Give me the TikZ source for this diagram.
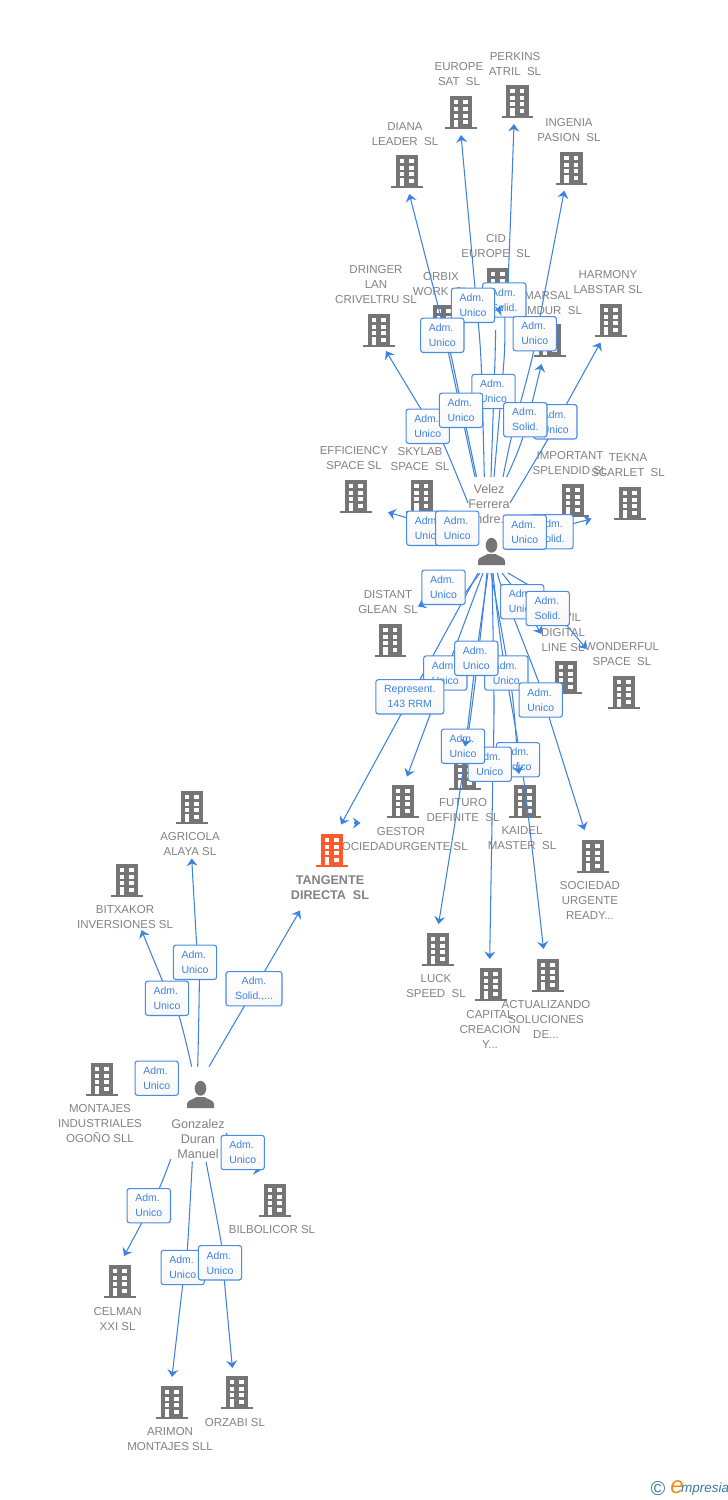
\documentclass[tikz,border=0pt]{standalone}
\usepackage{fontspec}
\setmainfont{Liberation Sans}
\usetikzlibrary{arrows.meta}
\definecolor{bgray}{HTML}{757575}
\definecolor{borange}{HTML}{FF5A2A}
\definecolor{ltext}{HTML}{828282}
\definecolor{lblue}{HTML}{3D82E2}
\definecolor{bblue}{HTML}{4A8BE4}
\definecolor{logoteal}{HTML}{3C7A9C}
\definecolor{logoor}{HTML}{F28A1E}
\newcommand\bldshape[1]{%
  \fill[#1] (-15.7,0) rectangle (15.7,-2.2);
  \fill[#1] (-11.2,-2) rectangle (11.4,-33);
  \fill[white] (-7.3,-29) rectangle (-2.7,-25);
  \fill[white] (2,-29) rectangle (6.7,-25);
  \fill[white] (-7.3,-22.3) rectangle (-2.7,-18.3);
  \fill[white] (2,-22.3) rectangle (6.7,-18.3);
  \fill[white] (-7.3,-15.7) rectangle (-2.7,-11.7);
  \fill[white] (2,-15.7) rectangle (6.7,-11.7);
  \fill[white] (2,-9) rectangle (6.7,-5);
  \fill[white] (-7.3,-9.7) rectangle (-2.7,-2.4);
}
\tikzset{
  bldg/.pic={\bldshape{bgray}},
  bldgo/.pic={\bldshape{borange}},
  persona/.pic={
    \fill[bgray] (0,-19.7) ellipse [x radius=5.8, y radius=7.4];
    \fill[bgray] (-13.5,0) -- (-13.5,-4) .. controls (-13.5,-8) and (-7,-8.5) .. (-4,-11)
       -- (4,-11) .. controls (7,-8.5) and (13.5,-8) .. (13.5,-4) -- (13.5,0) -- cycle;
  },
  lbl/.style={text=ltext, align=center, inner sep=0pt, yshift=-0.8pt, font=\fontsize{11.5}{15}\selectfont},
  lblb/.style={lbl, font=\fontsize{12.6}{15}\selectfont\bfseries},
  lblp/.style={lbl, font=\fontsize{12.6}{15}\selectfont},
  adm/.style={draw=bblue, line width=1.1pt, rounded corners=2.5pt, top color=white, bottom color=black!3,
     text=lblue, font=\fontsize{10.5}{15}\selectfont, inner sep=0pt, minimum width=43.3pt, minimum height=34.3pt, align=left},
  admc/.style={adm, align=center},
  conn/.style={draw=lblue, line width=1.05pt, line join=round, -{Stealth[length=7.5pt,width=11pt,inset=2.6pt]}},
  connp/.style={draw=lblue, line width=1.05pt, line join=round},
}
\newcommand\cmp[6]{\pic at (#2,#3) {bldg}; \node[lbl] (#1) at (#4,#5) {#6};}
\begin{document}
\begin{tikzpicture}[x=1pt,y=-1pt]
\useasboundingbox (0,0) rectangle (728,1500);
\fill[white] (0,0) rectangle (728,1500);
% companies
\cmp{europe}{461}{129.3}{459}{73.5}{EUROPE\\SAT~~SL}
\cmp{perkins}{517.6}{118}{515}{63.5}{PERKINS\\ATRIL~~SL}
\cmp{diana}{407}{188}{405}{133.5}{DIANA\\LEADER~~SL}
\cmp{ingenia}{571.6}{185}{569}{129.5}{INGENIA\\PASION~~SL}
\cmp{cid}{498}{301}{496}{245.5}{CID\\EUROPE~~SL}
\cmp{dringer}{379}{347}{376}{284}{DRINGER\\LAN\\CRIVELTRU SL}
\cmp{orbix}{444}{338}{441}{283.5}{ORBIX\\WORK~~SL}
\cmp{marsal}{550}{357}{548}{302.5}{MARSAL\\\hspace*{13pt}MDUR~~SL}
\cmp{harmony}{611}{337}{608}{281.5}{HARMONY\\LABSTAR SL}
\cmp{effic}{356}{513}{354}{457.5}{EFFICIENCY\\SPACE SL}
\cmp{skylab}{421.7}{513}{420}{458.5}{SKYLAB\\SPACE~~SL}
\cmp{import}{573}{517}{570}{462.5}{IMPORTANT\\SPLENDID SL}
\cmp{tekna}{630}{520}{628}{464.5}{TEKNA\\SCARLET~~SL}
\cmp{distant}{390.6}{657}{388}{601.5}{DISTANT\\GLEAN~~SL}
\cmp{vil}{566}{694}{563}{631.5}{\hspace*{19pt}VIL\\DIGITAL\\LINE SL}
\cmp{wonder}{624}{709}{622}{653.5}{WONDERFUL\\SPACE~~SL}
\cmp{gestor}{403}{818}{401}{838}{GESTOR\\SOCIEDADURGENTE SL}
\cmp{futuro}{465}{790}{463}{809.5}{FUTURO\\DEFINITE~~SL}
\cmp{kaidel}{525}{818}{522}{837.5}{KAIDEL\\MASTER~~SL}
\cmp{socurg}{593}{873}{590}{900}{SOCIEDAD\\URGENTE\\READY...}
\cmp{luck}{438}{966}{436}{985.5}{LUCK\\SPEED~~SL}
\cmp{capital}{491}{1001}{490}{1029}{CAPITAL\\CREACION\\Y...}
\cmp{actual}{548}{992}{546}{1019}{ACTUALIZANDO\\SOLUCIONES\\DE...}
\cmp{agricola}{192}{824}{190}{843.5}{AGRICOLA\\ALAYA SL}
\cmp{bitxakor}{127}{897}{125}{916.5}{BITXAKOR\\INVERSIONES SL}
\cmp{montajes}{102}{1096}{100}{1123}{MONTAJES\\INDUSTRIALES\\OGOÑO SLL}
\cmp{bilbo}{275}{1217}{272}{1229}{BILBOLICOR SL}
\cmp{celman}{120}{1298}{117.6}{1318.5}{CELMAN\\XXI SL}
\cmp{arimon}{172}{1419}{170}{1438.5}{ARIMON\\MONTAJES SLL}
\cmp{orzabi}{237}{1409}{235}{1422}{ORZABI SL}
% focus company
\pic at (332,867) {bldgo};
\node[lblb] (tangente) at (330,886.5) {TANGENTE\\DIRECTA~~SL};
% people
\pic at (491.5,565) {persona};
\node[lblp] (velez) at (489,503.5) {Velez\\Ferrera\\Andre...};
\pic at (200.5,1108) {persona};
\node[lblp] (gonzalez) at (198,1138) {Gonzalez\\Duran\\Manuel};
% logo
\node[inner sep=0pt, text=logoteal, font=\fontsize{20}{20}\selectfont] (logoc) at (658,1489) {©};
\node[inner sep=0pt, text=logoor, font=\fontsize{24}{24}\selectfont\itshape] (logoe) at (677,1487) {e};
\node[inner sep=0pt, text=logoteal, font=\fontsize{13.5}{14}\selectfont\itshape, anchor=west] (logom) at (681,1489) {mpresia};
% connector ends
\coordinate (sDiana) at (475,477);   \coordinate (tDiana) at (409.3,194);
\coordinate (sOrbix) at (476.5,477); \coordinate (tOrbix) at (446,335);
\coordinate (sEurope) at (484.3,477);\coordinate (tEurope) at (461,135);
\coordinate (sCid) at (491,477);     \coordinate (tCid) at (495.7,330);
\coordinate (sPerk) at (494,477);    \coordinate (tPerk) at (514,124);
\coordinate (sIng) at (503,477);     \coordinate (tIng) at (564.3,190.7);
\coordinate (sMars) at (506.7,477);  \coordinate (tMars) at (541.5,364);
\coordinate (sHarm) at (510,503);    \coordinate (tHarm) at (600.5,342.5);
\coordinate (sDrin) at (468,503);    \coordinate (tDrin) at (386,351);
\coordinate (sEff) at (425,523);     \coordinate (tEff) at (388,512.3);
\coordinate (sTek) at (560,527);     \coordinate (tTek) at (591.5,518.8);
\coordinate (sDist) at (480,573);    \coordinate (tDist) at (418,606.5);
\coordinate (sTan) at (478,573);     \coordinate (tTan) at (341,824.5);
\coordinate (sGes) at (483,573);     \coordinate (tGes) at (407,776.5);
\coordinate (sLuck) at (487,573);    \coordinate (tLuck) at (438.5,924);
\coordinate (sFut) at (488,573);     \coordinate (tFut) at (466.5,738);
\coordinate (sKai) at (491,573);     \coordinate (tKai) at (517.5,762);
\coordinate (sAct) at (493,573);     \coordinate (tAct) at (543.5,949);
\coordinate (sCap) at (492,573);     \coordinate (tCap) at (489.7,959);
\coordinate (sSoc) at (498,573);     \coordinate (tSoc) at (584.5,830);
\coordinate (sWon) at (508,573);     \coordinate (tWon) at (586.5,649);
\coordinate (sVil) at (502,573);     \coordinate (tVil) at (541.5,634);
% lines below the boxes
\draw[conn] plot[smooth,tension=.5] coordinates {(sDiana) (450,360) (441,318) (tDiana)};
\draw[conn] plot[smooth,tension=.5] coordinates {(sOrbix) (451,355) (tOrbix)};
\draw[conn] plot[smooth,tension=.5] coordinates {(sEurope) (481,360) (475,288) (tEurope)};
\draw[connp] (sCid) -- (495,360) -- (tCid);
\draw[conn] plot[smooth,tension=.5] coordinates {(sPerk) (504,360) (505,317) (508,283) (tPerk)};
\draw[conn] plot[smooth,tension=.4] coordinates {(sIng) (511.7,436) (531.7,360) (540,316.7) (tIng)};
\draw[conn] plot[smooth,tension=.5] coordinates {(sMars) (523,437) (tMars)};
\draw[conn] plot[smooth,tension=.4] coordinates {(sHarm) (548,439) (566,405) (tHarm)};
\draw[conn] plot[smooth,tension=.4] coordinates {(sDrin) (443,443) (421,409) (tDrin)};
\draw[conn] (sEff) -- (tEff);
\draw[conn] (sTek) -- (tTek);
\draw[conn] (sDist) -- (460,600) -- (435,598) -- (tDist);
\draw[conn] (sTan) -- (tTan);
\draw[conn] (sGes) -- (tGes);
\draw[conn] plot[smooth,tension=.5] coordinates {(sLuck) (476,675) (461.7,780) (tLuck)};
\draw[connp] plot[smooth,tension=.5] coordinates {(sFut) (476,658) (tFut)};
\draw[connp] plot[smooth,tension=.5] coordinates {(sKai) (511.7,690) (tKai)};
\draw[conn] plot[smooth,tension=.5] coordinates {(sAct) (502,650) (523.3,776.7) (tAct)};
\draw[conn] plot[smooth,tension=.5] coordinates {(sCap) (494,700) (492.7,781.7) (tCap)};
\draw[conn] plot[smooth,tension=.5] coordinates {(sSoc) (501.7,587) (539,683) (549,717) (tSoc)};
\draw[conn] (sWon) -- (537,590) -- (tWon);
\draw[conn] (sVil) -- (513,587) -- (tVil);
\coordinate (aStray) at (353.5,823); \coordinate (bStray) at (360.5,823);
\draw[conn] (aStray) -- (bStray);
% Gonzalez lines
\coordinate (sgTan) at (209,1066.7);  \coordinate (tgTan) at (300,910.5);
\coordinate (sgAgr) at (197.7,1066.7);\coordinate (tgAgr) at (191.7,858.5);
\coordinate (sgBit) at (191.7,1066.7);\coordinate (tgBit) at (141.5,930);
\coordinate (sgBil) at (226,1133);    \coordinate (tgBil) at (261,1170);
\coordinate (sgCel) at (170.7,1159.3);\coordinate (tgCel) at (124,1256);
\coordinate (sgAri) at (192.3,1161.7);\coordinate (tgAri) at (172,1377);
\coordinate (sgOrz) at (206,1161.7);  \coordinate (tgOrz) at (232.4,1368);
\draw[conn] (sgTan) -- (tgTan);
\draw[conn] plot[smooth,tension=.5] coordinates {(sgAgr) (199.3,979) (196.7,945) (tgAgr)};
\draw[conn] plot[smooth,tension=.5] coordinates {(sgBit) (178.7,1015) (162.7,981.3) (tgBit)};
\draw[conn] (sgBil) -- (250,1169) -- (tgBil);
\draw[conn] plot[smooth,tension=.5] coordinates {(sgCel) (159.3,1188.3) (141.7,1223) (tgCel)};
\draw[conn] plot[smooth,tension=.5] coordinates {(sgAri) (187.3,1250) (182.7,1284.7) (tgAri)};
\draw[conn] plot[smooth,tension=.5] coordinates {(sgOrz) (221.7,1245.7) (224.3,1280) (tgOrz)};
% boxes, back to front
\node[adm] (bC) at (504.3,300) {Adm.\\Solid.};
\coordinate (tCidA) at (502.5,310.5); \coordinate (tCidB) at (495.5,309);
\draw[conn] (tCidA) -- (tCidB);
\node[adm] (bB) at (473,305.3) {Adm.\\Unico};
\node[adm] (bA) at (442.3,335.3) {Adm.\\Unico};
\node[adm] (bD) at (534.7,333.7) {Adm.\\Unico};
\node[adm] (bE) at (493.5,391.5) {Adm.\\Unico};
\node[adm] (bI) at (555.3,421.8) {Adm.\\Unico};
\node[adm] (bG) at (427.7,426.3) {Adm.\\Unico};
\node[adm] (bF) at (461,410.3) {Adm.\\Unico};
\node[adm] (bH) at (525.3,419.7) {Adm.\\Solid.};
\node[adm] (bJ) at (428.3,528.3) {Adm.\\Unico};
\node[adm] (bK) at (457.2,528.3) {Adm.\\Unico};
\node[adm] (bL) at (551.5,531.7) {Adm.\\Solid.};
\node[adm] (bM) at (524.7,532.1) {Adm.\\Unico};
\node[adm] (bN) at (443.5,587.3) {Adm.\\Unico};
\node[adm] (bO) at (522.2,601.7) {Adm.\\Unico};
\node[adm] (bP) at (547.7,608.5) {Adm.\\Solid.};
\node[adm] (bQ) at (445.3,673) {Adm.\\Unico};
\node[adm] (bS) at (506.3,673) {Adm.\\Unico};
\node[adm] (bR) at (476.3,658.3) {Adm.\\Unico};
\node[adm] (bT) at (540.7,700) {Adm.\\Unico};
\node[admc, minimum width=68pt] (bRep) at (409.8,696.8) {Represent.\\143 RRM};
\node[adm] (bW) at (518,759.7) {Adm.\\Unico};
\node[adm] (bV) at (489.7,764.2) {Adm.\\Unico};
\node[adm] (bU) at (463,746.3) {Adm.\\Unico};
\coordinate (tFutB) at (465,746.5);
\draw[conn] (tFut) -- (tFutB);
\coordinate (tKaiB) at (519,774);
\draw[conn] (tKai) -- (tKaiB);
\node[adm] (bX) at (195,962.3) {Adm.\\Unico};
\node[adm] (bY) at (167,998.3) {Adm.\\Unico};
\node[admc, minimum width=56pt] (bZ) at (254,988.7) {Adm.\\Solid.,...};
\node[adm] (bAA) at (156.7,1078.2) {Adm.\\Unico};
\node[adm] (bAB) at (242.7,1152.5) {Adm.\\Unico};
\node[adm] (bAC) at (148.8,1205.7) {Adm.\\Unico};
\node[adm] (bAD) at (182.7,1267.5) {Adm.\\Unico};
\node[adm] (bAE) at (220,1262.8) {Adm.\\Unico};
\end{tikzpicture}
\end{document}
